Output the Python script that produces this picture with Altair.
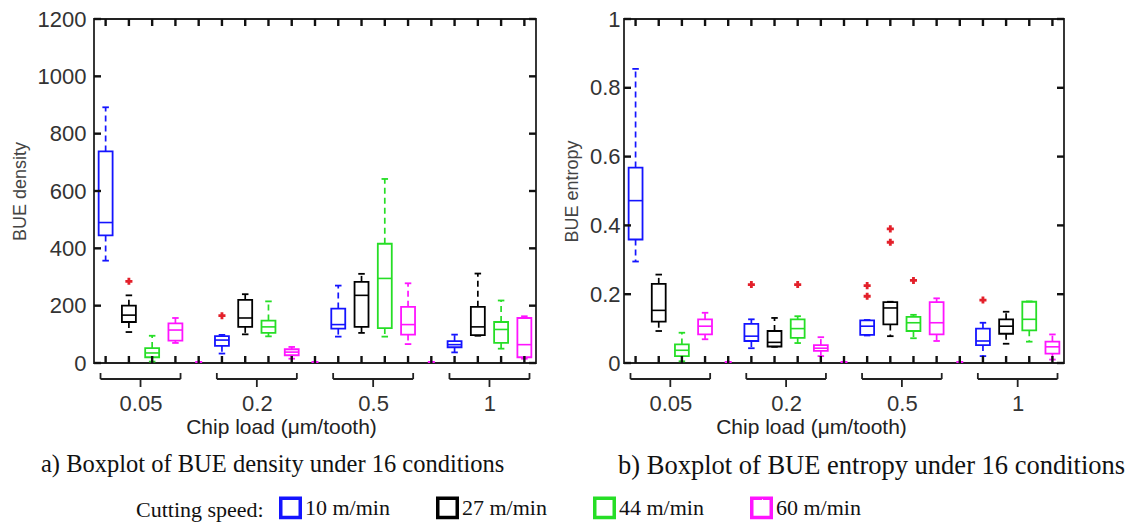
import altair as alt
import pandas as pd

chip_loads = ["0.05", "0.2", "0.5", "1"]
speeds = ["10 m/min", "27 m/min", "44 m/min", "60 m/min"]
speed_colors = ["#1414ff", "#000000", "#26de26", "#ff14ff"]

# BUE density: boxes ordered chip load (major) x cutting speed (minor)
dens_lo  = [357, 108,   5,  70,   33, 100,  93,  15,   92, 105,  92,  66,   37,  95,  50,  15]
dens_q1  = [445, 143,  20,  78,   60, 126, 105,  27,  120, 126, 122,  99,   55,  97,  70,  20]
dens_med = [490, 167,  35, 115,   80, 157, 126,  38,  134, 236, 295, 134,   64, 126, 117,  64]
dens_q3  = [738, 200,  52, 138,   94, 220, 148,  48,  190, 283, 416, 196,   76, 196, 143, 157]
dens_hi  = [892, 236,  95, 157,   98, 240, 215,  56,  270, 311, 642, 278,   99, 312, 218, 163]
dens_out_box = [1, 4]
dens_out_val = [285, 165]
dens_ticks = [0, 200, 400, 600, 800, 1000, 1200]

# BUE entropy
ent_lo  = [0.295, 0.093, 0.005, 0.069, 0.043, 0.047, 0.058, 0.020, 0.080, 0.078, 0.072, 0.064, 0.020, 0.056, 0.062, 0.010]
ent_q1  = [0.359, 0.120, 0.020, 0.083, 0.064, 0.048, 0.073, 0.035, 0.082, 0.112, 0.093, 0.083, 0.052, 0.085, 0.095, 0.027]
ent_med = [0.472, 0.153, 0.037, 0.107, 0.078, 0.060, 0.100, 0.043, 0.107, 0.160, 0.117, 0.117, 0.064, 0.107, 0.127, 0.047]
ent_q3  = [0.568, 0.230, 0.054, 0.127, 0.114, 0.093, 0.127, 0.052, 0.124, 0.177, 0.134, 0.177, 0.100, 0.127, 0.178, 0.062]
ent_hi  = [0.855, 0.257, 0.088, 0.146, 0.127, 0.131, 0.136, 0.075, 0.125, 0.178, 0.140, 0.188, 0.117, 0.149, 0.179, 0.083]
ent_out_box = [4, 6, 8, 8, 9, 9, 10, 12]
ent_out_val = [0.228, 0.228, 0.194, 0.225, 0.351, 0.390, 0.240, 0.183]
ent_ticks = [0, 0.2, 0.4, 0.6, 0.8, 1]

SANS = "Liberation Sans"
SERIF = "Liberation Serif"
NS = len(speeds)
STEP = NS + 1
N_POS = len(chip_loads) * STEP - 1
TL = 7  # inward tick length in pixels


def box_frame(lo, q1, med, q3, hi):
    rows = []
    for b in range(len(lo)):
        g, s = divmod(b, NS)
        rows.append({"pos": g * STEP + s + 1, "speed": speeds[s], "lo": lo[b],
                     "q1": q1[b], "med": med[b], "q3": q3[b], "hi": hi[b]})
    return pd.DataFrame(rows)


def out_frame(boxes, vals):
    return pd.DataFrame({"pos": [(b // NS) * STEP + b % NS + 1 for b in boxes], "val": vals})


leg = alt.Legend(orient="none", legendX=42, legendY=477, direction="horizontal",
                 title="Cutting speed:", titleOrient="left", titleFont=SERIF, titleFontSize=22,
                 titleFontWeight="normal", titleColor="#111", titlePadding=15,
                 labelFont=SERIF, labelFontSize=22, labelColor="#111", labelOffset=3,
                 symbolType="square", symbolSize=380, symbolStrokeWidth=3.5,
                 symbolFillColor="white", symbolDash=[1, 0], columnPadding=40)

label_expr = "[" + ",".join("'%s'" % c for c in chip_loads) + "][floor(datum.value / %d)]" % STEP


def panel(bdf, odf, ymax, yticks, fmt, ytitle, caption, W, H, lab_pad, tit_pad, cap_dx, cap_size):
    xmin, xmax = 0.5, N_POS + 0.5
    xs = alt.Scale(domain=[xmin, xmax], nice=False, zero=False)
    ys = alt.Scale(domain=[0, ymax], nice=False, zero=False)
    xaxis = alt.Axis(values=[g * STEP + (NS + 1) / 2 for g in range(len(chip_loads))],
                     labelExpr=label_expr, ticks=False, domain=False, grid=False,
                     labelOverlap=False, labelFlush=False,
                     labelPadding=30, labelFontSize=22, labelFont=SANS, labelColor="#333",
                     title="Chip load (μm/tooth)", titleFont=SANS, titleFontSize=21,
                     titleFontWeight="normal", titleColor="#222", titlePadding=2, titleX=187)
    yaxis = alt.Axis(values=yticks, format=fmt, ticks=False, domain=False, grid=False,
                     labelOverlap=False, labelPadding=lab_pad, labelFontSize=22, labelFont=SANS,
                     labelColor="#333", labelFlush=False, title=ytitle, titleFont=SANS,
                     titleFontSize=18, titleFontWeight="normal", titleColor="#444",
                     titlePadding=tit_pad)

    def X(f):
        return alt.X(f, type="quantitative", scale=xs, axis=xaxis)

    def Y(f):
        return alt.Y(f, type="quantitative", scale=ys, axis=yaxis)

    strk = alt.Stroke("speed:N", scale=alt.Scale(domain=speeds, range=speed_colors), legend=leg)

    base = alt.Chart(bdf).transform_calculate(
        xl="datum.pos - 0.3", xr="datum.pos + 0.3",
        cl="datum.pos - 0.14", cr="datum.pos + 0.14")

    tick_df = pd.DataFrame({"tpos": [float(p) for p in range(1, N_POS + 1)]})
    ytick_df = pd.DataFrame({"tv": [float(v) for v in yticks]})
    gap_df = pd.DataFrame({"gpos": [g * STEP for g in range(1, len(chip_loads))]})
    br_df = pd.DataFrame({"start": [g * STEP + 1 - 0.22 for g in range(len(chip_loads))],
                          "end": [g * STEP + NS + 0.22 for g in range(len(chip_loads))],
                          "center": [g * STEP + (NS + 1) / 2 for g in range(len(chip_loads))]})

    layers = [
        base.mark_rect(fill="white", strokeWidth=1.8).encode(
            x=X("xl:Q"), x2="xr:Q", y=Y("q1"), y2="q3", stroke=strk),
        base.mark_rule(strokeWidth=1.7, strokeDash=[6, 4]).encode(
            x=X("pos"), y=Y("q3"), y2="hi", stroke=strk),
        base.mark_rule(strokeWidth=1.7, strokeDash=[6, 4]).encode(
            x=X("pos"), y=Y("q1"), y2="lo", stroke=strk),
        base.mark_rule(strokeWidth=1.6).encode(x=X("xl:Q"), x2="xr:Q", y=Y("med"), stroke=strk),
        base.mark_rule(strokeWidth=1.8).encode(x=X("cl:Q"), x2="cr:Q", y=Y("hi"), stroke=strk),
        base.mark_rule(strokeWidth=1.8).encode(x=X("cl:Q"), x2="cr:Q", y=Y("lo"), stroke=strk),
        alt.Chart(odf).mark_point(shape="cross", filled=True, size=50, color="#e3202a", opacity=1).encode(
            x=X("pos"), y=Y("val")),
        alt.Chart(gap_df).transform_calculate(gl="datum.gpos - 0.15", gr="datum.gpos + 0.15").mark_rule(
            color="#ff14ff", strokeWidth=2).encode(x=X("gl:Q"), x2="gr:Q", y=alt.value(H - 1)),
        alt.Chart(br_df).mark_rule(color="#222", strokeWidth=1.8).encode(
            x=X("start"), y=alt.value(H + 10), y2=alt.value(H + 16)),
        alt.Chart(br_df).mark_rule(color="#222", strokeWidth=1.8).encode(
            x=X("end"), y=alt.value(H + 10), y2=alt.value(H + 16)),
        alt.Chart(br_df).mark_rule(color="#222", strokeWidth=1.8).encode(
            x=X("start"), x2="end", y=alt.value(H + 16)),
        alt.Chart(br_df).mark_rule(color="#222", strokeWidth=1.8).encode(
            x=X("center"), y=alt.value(H + 16), y2=alt.value(H + 24)),
        # inward ticks on all four sides of the frame
        alt.Chart(tick_df).mark_rule(color="#111", strokeWidth=2.4).encode(
            x=X("tpos"), y=alt.value(H), y2=alt.value(H - TL)),
        alt.Chart(tick_df).mark_rule(color="#111", strokeWidth=2.4).encode(
            x=X("tpos"), y=alt.value(0), y2=alt.value(TL)),
        alt.Chart(ytick_df).mark_rule(color="#111", strokeWidth=2.4).encode(
            y=Y("tv"), x=alt.value(0), x2=alt.value(TL)),
        alt.Chart(ytick_df).mark_rule(color="#111", strokeWidth=2.4).encode(
            y=Y("tv"), x=alt.value(W - TL), x2=alt.value(W)),
    ]
    return alt.layer(*layers).properties(
        width=W, height=H,
        title=alt.TitleParams(caption, orient="bottom", anchor="start", frame="group", dx=cap_dx,
                              offset=16, font=SERIF, fontSize=cap_size, fontWeight="normal",
                              color="#111"))


left = panel(box_frame(dens_lo, dens_q1, dens_med, dens_q3, dens_hi),
             out_frame(dens_out_box, dens_out_val), 1200, dens_ticks, "d", "BUE density",
             "a) Boxplot of BUE density under 16 conditions", 442, 344, 8, 8, -53, 24.5)
right = panel(box_frame(ent_lo, ent_q1, ent_med, ent_q3, ent_hi),
              out_frame(ent_out_box, ent_out_val), 1, ent_ticks, "~g", "BUE entropy",
              "b) Boxplot of BUE entropy under 16 conditions", 440, 344, 4, 8, -6, 26.5)

chart = alt.hconcat(left, right, spacing=88, bounds="flush").configure_view(
    stroke="#222", strokeWidth=1.8).properties(
    padding={"left": 10, "top": 7, "right": 5, "bottom": 60})

chart.save("out.html", embed_options={"renderer": "svg", "actions": False})
